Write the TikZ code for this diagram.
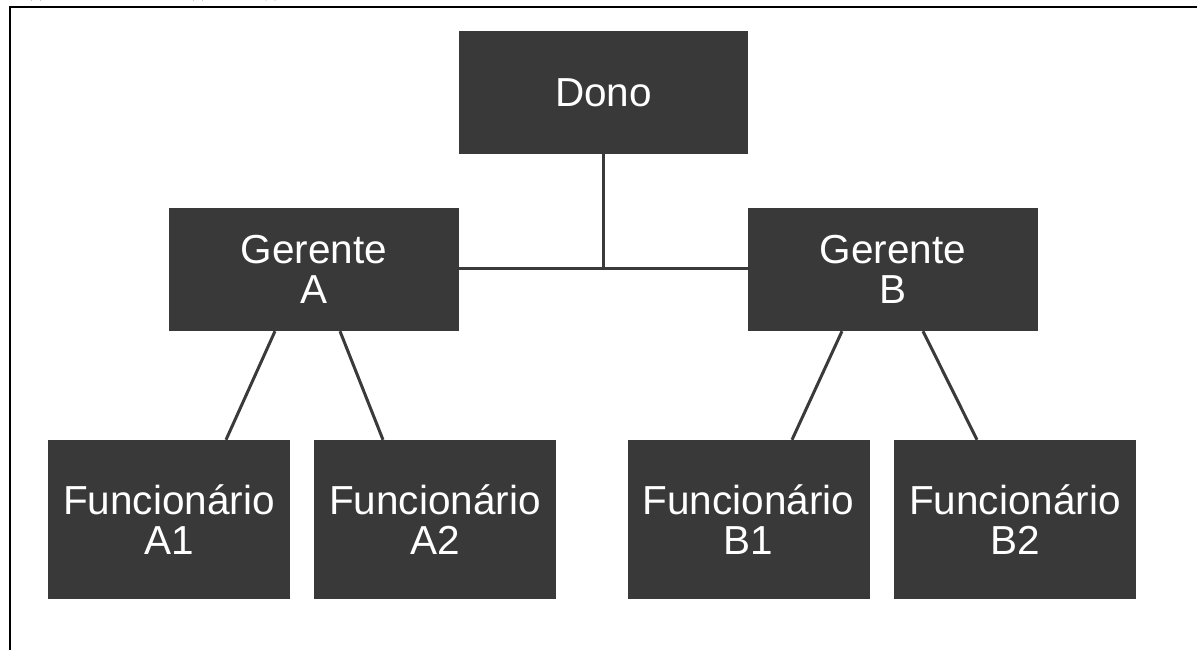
\documentclass[tikz,border=0pt]{standalone}
\usepackage{fontspec}
\setmainfont{Liberation Sans}
\usetikzlibrary{calc}
\definecolor{boxgray}{HTML}{393939}
\definecolor{linegray}{HTML}{3A3A3A}
\tikzset{
  orgbox/.style={fill=boxgray, draw=none, inner sep=0pt, align=center,
    text=white, font=\fontsize{40.5}{40}\selectfont},
  toprole/.style={orgbox, minimum width=289pt, minimum height=123pt},
  manager/.style={orgbox, minimum width=290pt, minimum height=123pt},
  staff/.style={orgbox, minimum width=242pt, minimum height=159pt},
  link/.style={draw=linegray, line width=3pt},
  frameline/.style={draw=black, line width=2pt},
}
\begin{document}
\begin{tikzpicture}[x=1pt, y=-1pt]
  \useasboundingbox (0,0) rectangle (1197,650);

  % page frame (top and left edges)
  \coordinate (fr-top-right) at (1197,7);
  \coordinate (fr-corner) at (9.5,7);
  \coordinate (fr-bottom-left) at (9.5,650);
  \draw[frameline] (fr-top-right) -- (fr-corner) -- (fr-bottom-left);

  % descenders of the caption line above the frame
  \draw[black, line width=1.3pt] (31,0) arc[start angle=180, end angle=360, x radius=5, y radius=3];
  \draw[black, line width=1.3pt] (193,0) arc[start angle=180, end angle=360, x radius=5, y radius=3];
  \draw[black, line width=1.3pt] (265.5,0) arc[start angle=180, end angle=360, x radius=5, y radius=3];

  % boxes
  \node[toprole] (dono) at (603.5,92.5) {Dono};
  \node[manager] (ga) at (314,269.5) {Gerente\\A};
  \node[manager] (gb) at (893,269.5) {Gerente\\B};
  \node[staff] (a1) at (169,519.5) {Funcionário\\A1};
  \node[staff] (a2) at (435,519.5) {Funcionário\\A2};
  \node[staff] (b1) at (748.5,519.5) {Funcionário\\B1};
  \node[staff] (b2) at (1015,519.5) {Funcionário\\B2};

  % owner to managers
  \coordinate (junction) at ($(dono.south)+(0,114)$);
  \draw[link] (dono.south) -- (junction);
  \draw[link] ($(ga.east)+(0,-1.5)$) -- ($(gb.west)+(0,-1.5)$);

  % managers to staff
  \draw[link] ($(ga.south)+(-39,0)$) -- ($(a1.north)+(57,0)$);
  \draw[link] ($(ga.south)+(26,0)$) -- ($(a2.north)+(-52,0)$);
  \draw[link] ($(gb.south)+(-51,0)$) -- ($(b1.north)+(43.5,0)$);
  \draw[link] ($(gb.south)+(30,0)$) -- ($(b2.north)+(-38,0)$);
\end{tikzpicture}
\end{document}
